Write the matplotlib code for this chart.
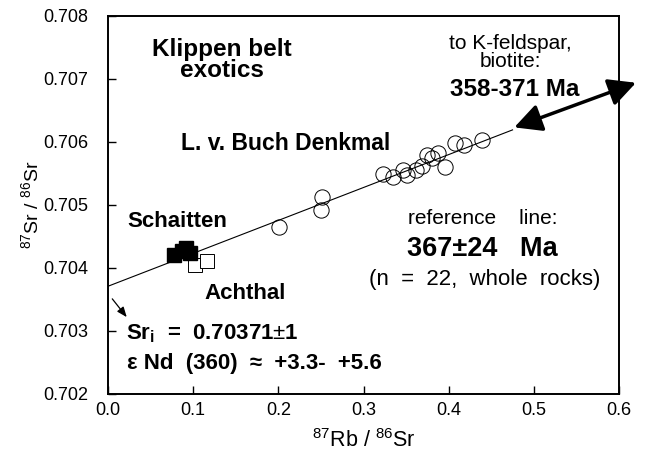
import matplotlib
matplotlib.use("Agg")
import matplotlib.pyplot as plt
import numpy as np

plt.rcParams['font.family'] = ['Liberation Sans', 'DejaVu Sans']
plt.rcParams['mathtext.fontset'] = 'custom'
plt.rcParams['mathtext.rm'] = 'Liberation Sans'
plt.rcParams['mathtext.bf'] = 'Liberation Sans:bold'

# L. v. Buch Denkmal whole rocks (open circles)
rb_buch = [0.2005, 0.2497, 0.2509, 0.3224, 0.3341, 0.3458, 0.3505, 0.3611,
           0.3681, 0.3740, 0.3810, 0.3869, 0.3962, 0.4080, 0.4185, 0.4396]
sr_buch = [0.70465, 0.70492, 0.70513, 0.70549, 0.70544, 0.70556, 0.70548, 0.70556,
           0.70562, 0.70579, 0.70575, 0.70583, 0.70560, 0.70598, 0.70595, 0.70603]

# Schaitten (filled squares)
rb_schaitten = [0.0774, 0.0868, 0.0914, 0.0961]
sr_schaitten = [0.70421, 0.70427, 0.70432, 0.70424]

# Achthal (open squares)
rb_achthal = [0.1020, 0.1160]
sr_achthal = [0.70405, 0.70411]

# reference line: 367 Ma, Sr_i = 0.70371
age_ma = 367
sr_init = 0.70371
decay = 1.42e-11
slope = np.exp(decay * age_ma * 1e6) - 1

fig = plt.figure(figsize=(6.46, 4.54), dpi=100)
ax = fig.add_axes([0.1672, 0.1322, 0.791, 0.8326])

xl = np.array([0.0, 0.475])
ax.plot(xl, sr_init + slope * xl, color='black', lw=0.8, zorder=2)

ax.plot(rb_buch, sr_buch, 'o', ms=11, mfc='none', mec='black', mew=0.7, zorder=3)
ax.plot(rb_achthal, sr_achthal, 's', ms=10, mfc='white', mec='black', mew=0.7, zorder=3)
ax.plot(rb_schaitten, sr_schaitten, 's', ms=9.5, mfc='black', mec='black', zorder=4)

# arrow to K-feldspar / biotite
xa0, xa1 = 0.474, 0.623
ax.annotate('', xy=(xa1, sr_init + slope * xa1 - 0.00001), xytext=(xa0, sr_init + slope * xa0 + 0.00003),
            arrowprops=dict(arrowstyle='<|-|>,head_length=0.55,head_width=0.28', color='black',
                            lw=2.5, mutation_scale=30),
            annotation_clip=False)

# small arrow from intercept
ax.annotate('', xy=(0.022, 0.70322), xytext=(0.005, 0.70351),
            arrowprops=dict(arrowstyle='-|>,head_length=0.5,head_width=0.2', color='black',
                            lw=0.9, mutation_scale=12, shrinkA=0, shrinkB=0))

ax.set_xlim(0.0, 0.6)
ax.set_ylim(0.702, 0.708)
ax.set_xticks([0.0, 0.1, 0.2, 0.3, 0.4, 0.5, 0.6])
ax.set_xticklabels(['0.0', '0.1', '0.2', '0.3', '0.4', '0.5', '0.6'])
ax.set_yticks(np.arange(0.702, 0.70801, 0.001))
ax.set_yticklabels(['0.702', '0.703', '0.704', '0.705', '0.706', '0.707', '0.708'])
ax.tick_params(direction='in', length=6, width=1, labelsize=13)
ax.tick_params(axis='y', pad=14)
ax.tick_params(axis='x', pad=6)
for s in ax.spines.values():
    s.set_linewidth(1.4)

ax.set_xlabel(r'$^{87}$Rb / $^{86}$Sr', fontsize=15.5, labelpad=7)
ax.set_ylabel(r'$^{87}$Sr / $^{86}$Sr', fontsize=14, labelpad=0)

bold = dict(fontweight='bold', color='black')
ax.text(0.1336, 0.70730, 'Klippen belt\nexotics', fontsize=17.5, ha='center', va='center',
        linespacing=0.92, **bold)
ax.text(0.2087, 0.70598, 'L. v. Buch Denkmal', fontsize=16.5, ha='center', va='center', **bold)
ax.text(0.0223, 0.70473, 'Schaitten', fontsize=16, ha='left', va='center', **bold)
ax.text(0.1137, 0.70359, 'Achthal', fontsize=16, ha='left', va='center', **bold)
ax.text(0.0215, 0.70296, r'Sr$_{\mathbf{i}}$  =  0.70371$\pm$1', fontsize=16, ha='left',
        va='center', **bold)
ax.text(0.0225, 0.70249, 'ε Nd  (360)  ≈  +3.3-  +5.6', fontsize=16, ha='left', va='center', **bold)

ax.text(0.4725, 0.70742, 'to K-feldspar,\nbiotite:', fontsize=15, ha='center', va='center',
        linespacing=0.95)
ax.text(0.4771, 0.70684, '358-371 Ma', fontsize=17.5, ha='center', va='center', **bold)

ax.text(0.4396, 0.70479, 'reference    line:', fontsize=15, ha='center', va='center')
ax.text(0.4396, 0.70430, '367±24   Ma', fontsize=19.5, ha='center', va='center', **bold)
ax.text(0.4420, 0.70381, '(n  =  22,  whole  rocks)', fontsize=16, ha='center', va='center')

fig.savefig('out.png', dpi=100)
